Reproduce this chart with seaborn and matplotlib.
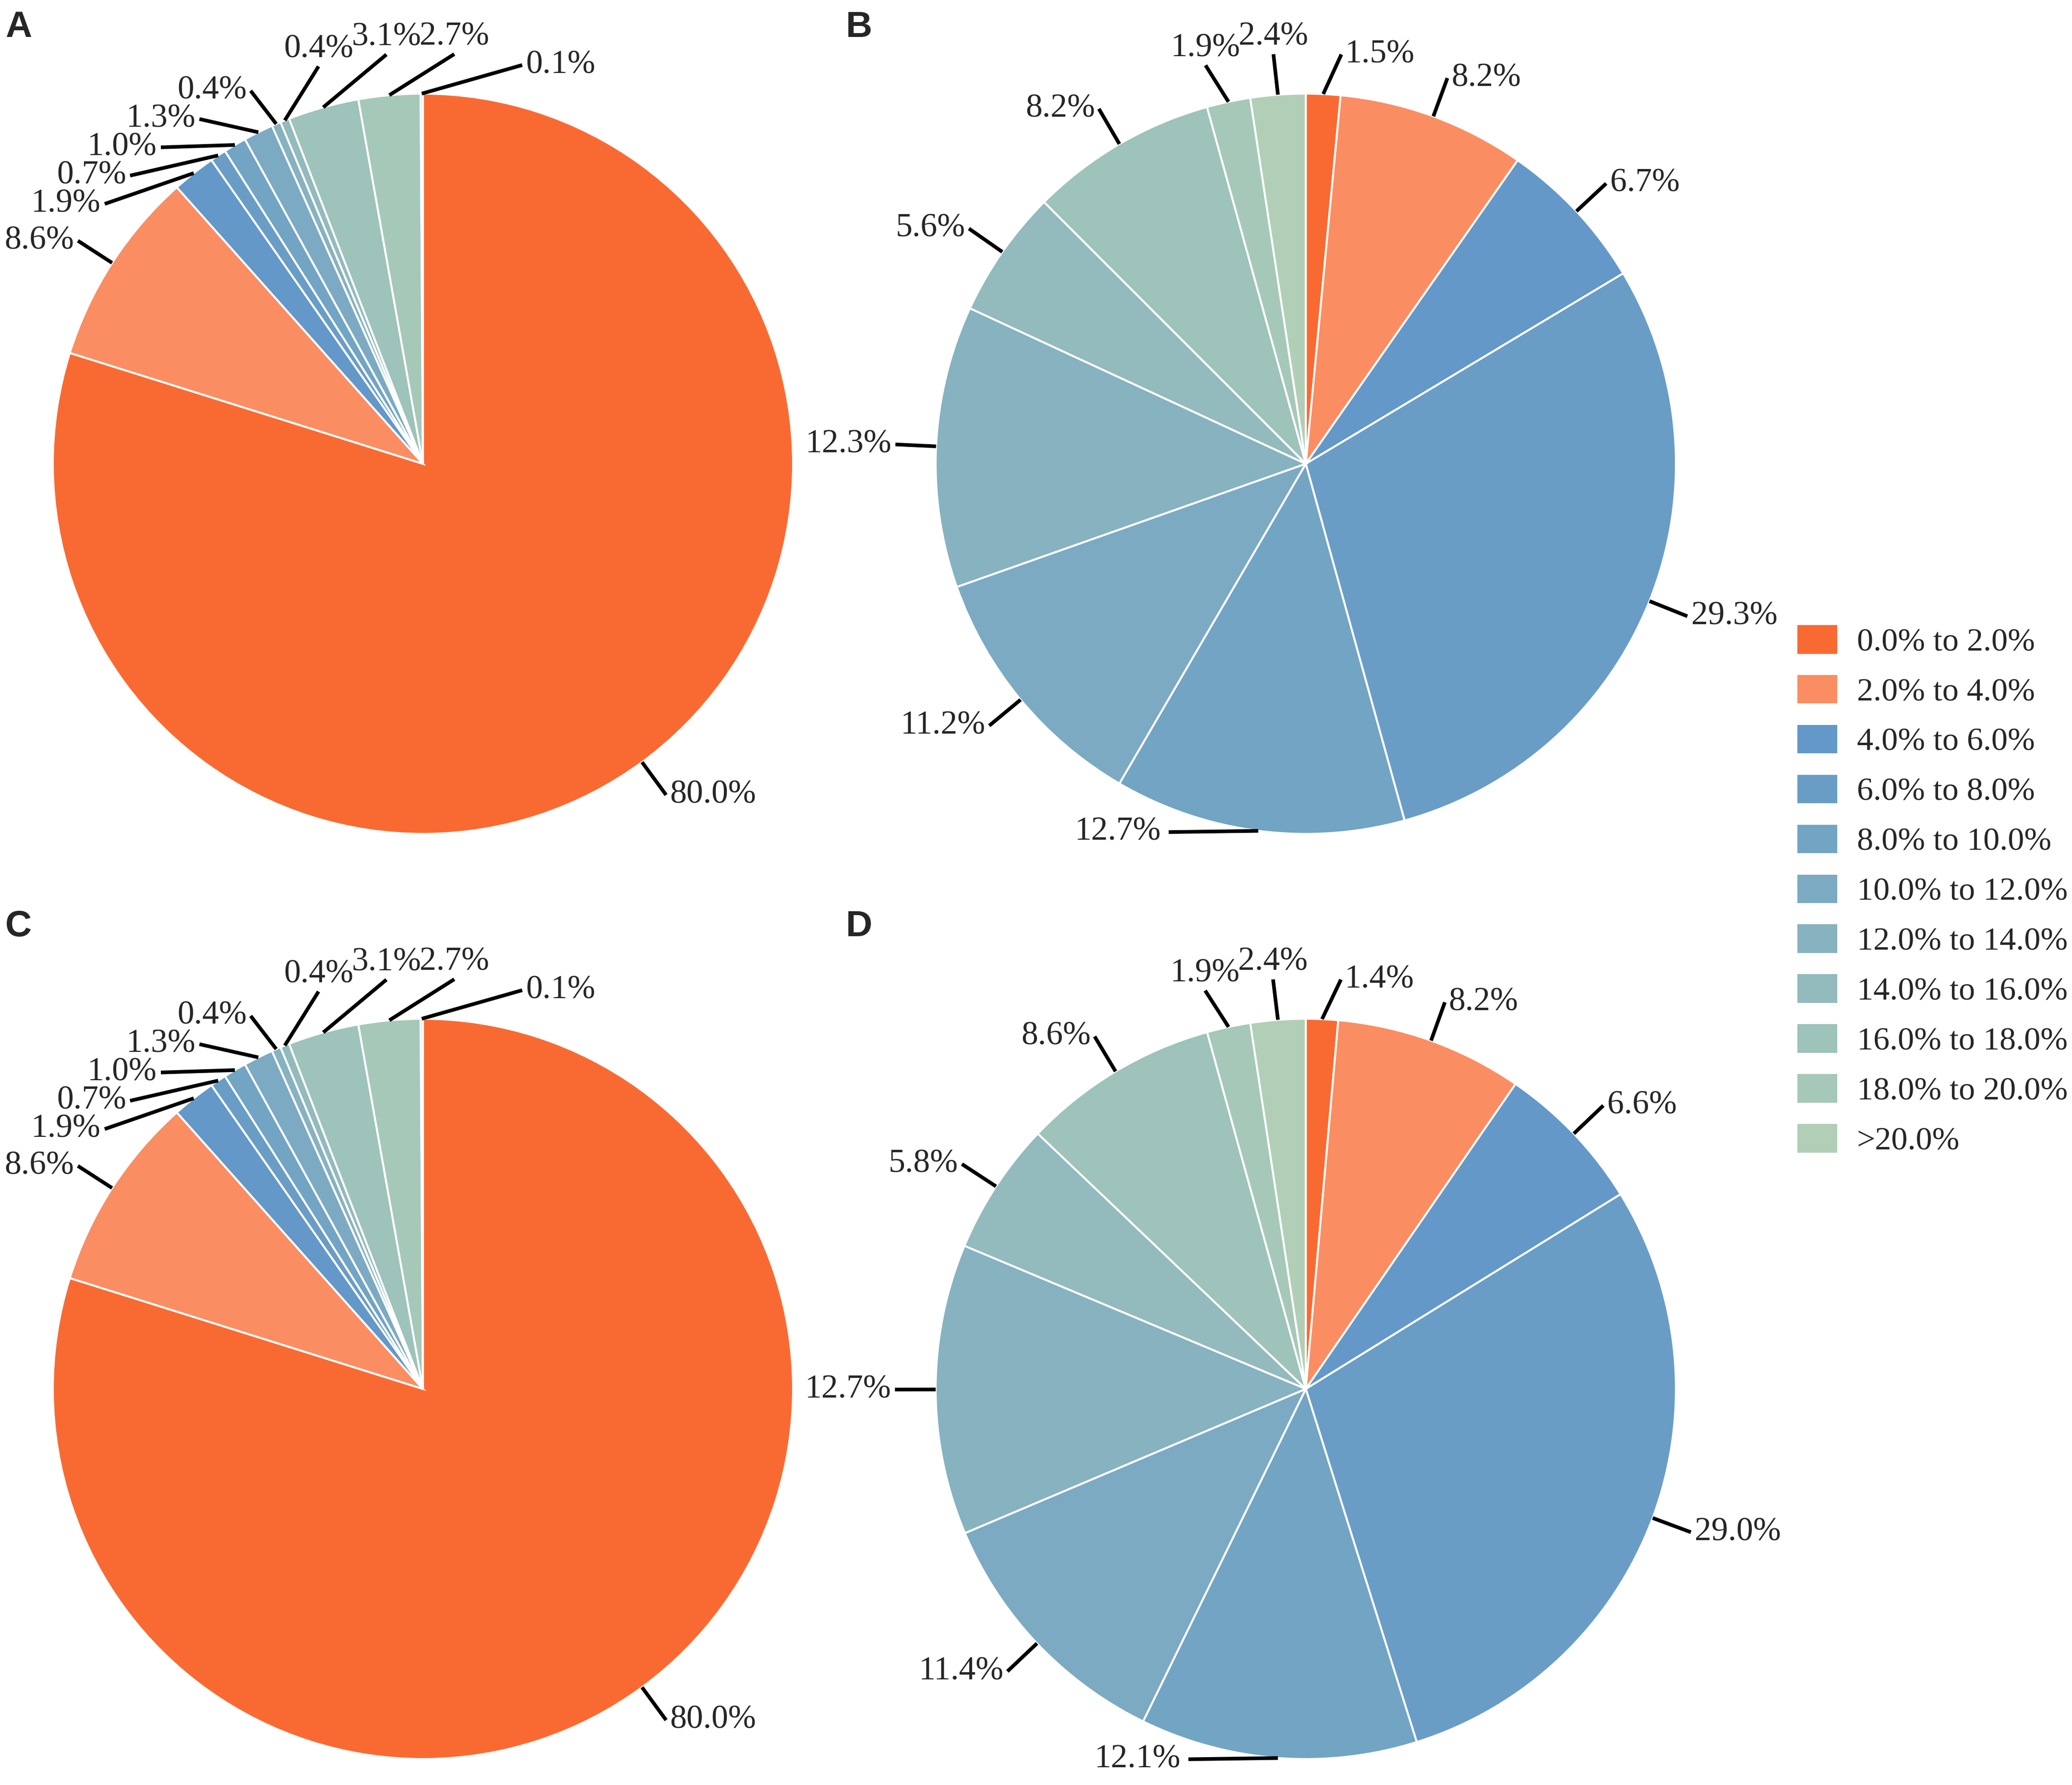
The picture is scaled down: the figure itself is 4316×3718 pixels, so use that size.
import numpy as np
import matplotlib
matplotlib.use("Agg")
import matplotlib.pyplot as plt
from matplotlib.patches import Patch
import seaborn as sns

# ---------------- data ----------------
categories = ["0.0% to 2.0%", "2.0% to 4.0%", "4.0% to 6.0%", "6.0% to 8.0%",
              "8.0% to 10.0%", "10.0% to 12.0%", "12.0% to 14.0%", "14.0% to 16.0%",
              "16.0% to 18.0%", "18.0% to 20.0%", ">20.0%"]
share_A = [80.0, 8.6, 1.9, 0.7, 1.0, 1.3, 0.4, 0.4, 3.1, 2.7, 0.1]
share_B = [1.5, 8.2, 6.7, 29.3, 12.7, 11.2, 12.3, 5.6, 8.2, 1.9, 2.4]
share_C = [80.0, 8.6, 1.9, 0.7, 1.0, 1.3, 0.4, 0.4, 3.1, 2.7, 0.1]
share_D = [1.4, 8.2, 6.6, 29.0, 12.1, 11.4, 12.7, 5.8, 8.6, 1.9, 2.4]
panel_letters = ["A", "B", "C", "D"]

colors = ["#F96A33", "#FB8D62", "#6398C9", "#6A9DC6", "#72A4C4", "#7CAAC3",
          "#87B2BF", "#93BABC", "#9DC3BA", "#A6C8B8", "#B1CFB6"]

# ---------------- style ----------------
sns.set_theme(style="white")
plt.rcParams["font.family"] = ["Liberation Serif", "DejaVu Serif"]
palette = sns.color_palette(colors)

W, H, DPI = 4316, 3718, 100
fig = plt.figure(figsize=(W / DPI, H / DPI), dpi=DPI)
ax = fig.add_axes([0, 0, 1, 1])

LABEL_FS = 50
LEGEND_FS = 49
LETTER_FS = 55
LINE_LW = 5.5

# panel geometry in pixels (x, y from top), radius, letter position
panels = [
    (share_A, (881, 966), 771, (11, 22)),
    (share_B, (2720, 966), 771, (1762, 22)),
    (share_C, (881, 2893), 771, (11, 1895)),
    (share_D, (2720, 2893), 771, (1762, 1895)),
]

renderer = fig.canvas.get_renderer()


def text_size(s):
    t = ax.text(0, 0, s, fontsize=LABEL_FS)
    bb = t.get_window_extent(renderer)
    t.remove()
    return bb.width, bb.height


def spread(angles, widths, h, R, iters=1500):
    a = np.array(angles, float)
    n = len(a)
    for _ in range(iters):
        for i in range(n):
            j = (i + 1) % n
            aj = a[j] + (360.0 if j == 0 else 0.0)
            diff = aj - a[i]
            mid = np.radians(a[i] + diff / 2)
            tx, ty = abs(np.cos(mid)), abs(np.sin(mid))
            w = (widths[i] + widths[j]) / 2
            need_px = min(w / max(tx, 1e-6), h / max(ty, 1e-6))
            need = np.degrees(need_px / R)
            if diff < need:
                d = (need - diff) / 2
                a[i] -= d
                a[j] += d
    return a


for (vals, (cx, cy_img), R, (lx, ly)), letter in zip(panels, panel_letters):
    cy = H - cy_img
    vals = np.asarray(vals, float)
    ax.pie(vals, colors=palette, startangle=90, counterclock=False,
           center=(cx, cy), radius=R, normalize=True,
           wedgeprops=dict(edgecolor="white", linewidth=3.0))
    frac = vals / vals.sum()
    cum = np.cumsum(frac) - frac / 2
    mids = cum * 360.0  # clockwise from top
    labels = [f"{v:.1f}%" for v in vals]
    sizes = [text_size(s) for s in labels]
    widths = [s[0] for s in sizes]
    th = max(s[1] for s in sizes) * 0.95
    L = 0.11 * R
    ang = spread(mids, widths, th, R + L + 20)
    for lab, th_mid, phi in zip(labels, mids, ang):
        t0 = np.radians(th_mid)
        p = np.radians(phi)
        sx, sy = cx + R * np.sin(t0), cy + R * np.cos(t0)
        if np.cos(p) < -0.97:
            ex, ey = sx - 2.2 * L, sy - 0.03 * L
            ax.plot([sx, ex], [sy, ey], color="black", lw=LINE_LW, solid_capstyle="butt")
            ax.text(ex - 16, ey, lab, fontsize=LABEL_FS, ha="right", va="center")
            continue
        ex, ey = cx + (R + L) * np.sin(p), cy + (R + L) * np.cos(p)
        ax.plot([sx, ex], [sy, ey], color="black", lw=LINE_LW, solid_capstyle="butt")
        s = np.sin(p)
        if s > 0.08:
            ax.text(ex + 8, ey, lab, fontsize=LABEL_FS, ha="left", va="center")
        elif s < -0.3:
            ax.text(ex - 8, ey, lab, fontsize=LABEL_FS, ha="right", va="center")
        else:
            if np.cos(p) > 0:
                ax.text(ex, ey + 4, lab, fontsize=LABEL_FS, ha="center", va="bottom")
            else:
                ax.text(ex, ey - 4, lab, fontsize=LABEL_FS, ha="center", va="top")
    ax.text(lx, H - ly, letter, fontsize=LETTER_FS, fontweight="bold",
            family=["Liberation Sans", "DejaVu Sans"], ha="left", va="top")

ax.set_aspect("equal", adjustable="box")
ax.set_xlim(0, W)
ax.set_ylim(0, H)
ax.axis("off")

handles = [Patch(facecolor=c, edgecolor="none") for c in palette]
fig.legend(handles, categories, loc="upper left",
           bbox_to_anchor=(3744 / W, 1 - 1302 / H), frameon=False,
           fontsize=LEGEND_FS, handlelength=1.22, handleheight=0.97,
           handletextpad=0.6, labelspacing=0.54, borderpad=0, borderaxespad=0)

fig.savefig("out.png", dpi=DPI, facecolor="white")
